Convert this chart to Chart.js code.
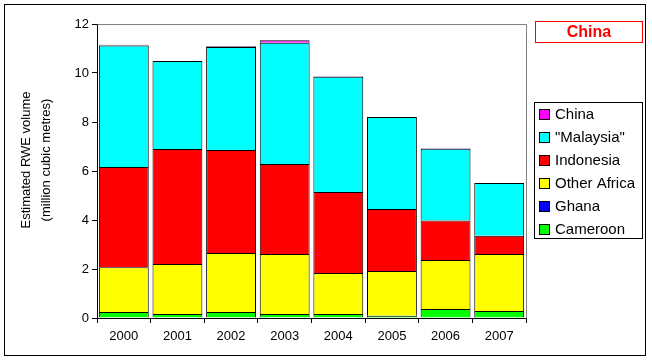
<!DOCTYPE html>
<html><head><meta charset="utf-8">
<script src="https://cdn.jsdelivr.net/npm/chart.js@4.4.1/dist/chart.umd.min.js"></script>
<style>html,body{margin:0;padding:0;background:#fff}#wrap{width:652px;height:361px;position:relative}</style>
</head><body><div id="wrap"><canvas id="c" width="652" height="361"></canvas></div>
<script>
const years = ['2000','2001','2002','2003','2004','2005','2006','2007'];
const cameroon    = [0.25, 0.16, 0.25, 0.16, 0.16, 0.09, 0.37, 0.29];
const ghana       = [0, 0, 0, 0, 0, 0, 0, 0];
const otherAfrica = [1.82, 2.04, 2.40, 2.45, 1.68, 1.83, 2.00, 2.32];
const indonesia   = [4.09, 4.70, 4.21, 3.68, 3.30, 2.53, 1.61, 0.75];
const malaysia    = [4.96, 3.59, 4.20, 4.94, 4.71, 3.75, 2.93, 2.15];
const china       = [0.03, 0, 0.03, 0.11, 0.02, 0, 0.02, 0];
const seriesNames  = ['Cameroon', 'Ghana', 'Other Africa', 'Indonesia', '"Malaysia"', 'China'];
const seriesColors = ['#00FF00', '#0000FF', '#FFFF00', '#FF0000', '#00FFFF', '#FF00FF'];
const seriesData   = [cameroon, ghana, otherAfrica, indonesia, malaysia, china];
const yMin = 0, yMax = 12, yStep = 2;
const titleText = 'China';
const yTitleLines = ['Estimated RWE volume', '(million cubic metres)'];

const FONT = '"Liberation Sans", Arial, sans-serif';

const datasets = seriesNames.map((n, i) => ({
  label: n,
  data: seriesData[i],
  backgroundColor: seriesColors[i],
  borderColor: '#000',
  borderWidth: 1,
  inflateAmount: 0
}));

const decor = {
  id: 'decor',
  beforeDatasetsDraw(chart) {
    const ctx = chart.ctx, a = chart.chartArea;
    ctx.save();
    ctx.strokeStyle = '#808080';
    ctx.lineWidth = 1;
    ctx.beginPath();
    ctx.moveTo(Math.round(a.left) + 0.5, Math.round(a.top) + 0.5);
    ctx.lineTo(Math.round(a.right) + 0.5, Math.round(a.top) + 0.5);
    ctx.lineTo(Math.round(a.right) + 0.5, Math.round(a.bottom) + 0.5);
    ctx.stroke();
    ctx.restore();
  },
  afterDraw(chart) {
    const ctx = chart.ctx;
    ctx.save();
    // outer frame
    ctx.strokeStyle = '#000';
    ctx.lineWidth = 1;
    ctx.strokeRect(4.5, 4.5, 641, 351);
    // title box
    ctx.strokeStyle = '#FF0000';
    ctx.strokeRect(535.5, 21.5, 107, 21);
    ctx.fillStyle = '#FF0000';
    ctx.font = 'bold 16px ' + FONT;
    ctx.textAlign = 'center';
    ctx.textBaseline = 'middle';
    ctx.fillText(titleText, 589, 32.5);
    // y title
    ctx.fillStyle = '#000';
    ctx.font = '13px ' + FONT;
    ctx.textAlign = 'center';
    ctx.textBaseline = 'middle';
    const xs = [26, 46];
    yTitleLines.forEach((t, i) => {
      ctx.save();
      ctx.translate(xs[i], 160);
      ctx.rotate(-Math.PI / 2);
      ctx.fillText(t, 0, 0);
      ctx.restore();
    });
    // legend
    ctx.strokeStyle = '#000';
    ctx.strokeRect(534.5, 102.5, 108, 136);
    ctx.font = '15px ' + FONT;
    ctx.textAlign = 'left';
    const order = chart.data.datasets.map((d, i) => i).reverse();
    order.forEach((di, r) => {
      const ds = chart.data.datasets[di];
      const cy = 114.5 + r * 23;
      ctx.fillStyle = ds.backgroundColor;
      ctx.fillRect(539.5, cy - 5, 10, 10);
      ctx.strokeStyle = '#000';
      ctx.strokeRect(539.5, cy - 5, 10, 10);
      ctx.fillStyle = '#000';
      ctx.fillText(ds.label, 555, cy + 0.5);
    });
    ctx.restore();
  }
};

new Chart(document.getElementById('c'), {
  type: 'bar',
  data: { labels: years, datasets },
  options: {
    responsive: false,
    devicePixelRatio: 1,
    animation: false,
    layout: { padding: { left: 0, top: 24, right: 126, bottom: 0 } },
    plugins: { legend: { display: false }, tooltip: { enabled: false }, title: { display: false } },
    datasets: { bar: { categoryPercentage: 1, barPercentage: 0.93 } },
    scales: {
      x: {
        stacked: true,
        grid: { display: true, drawOnChartArea: false, drawTicks: true, tickLength: 5, color: '#000', offset: true },
        border: { display: true, color: '#000', width: 1 },
        ticks: { color: '#000', font: { family: FONT, size: 13 }, padding: 6, maxRotation: 0 },
        afterFit(s) { s.height = 43; }
      },
      y: {
        stacked: true,
        min: yMin, max: yMax,
        grid: { display: true, drawOnChartArea: false, drawTicks: true, tickLength: 5, color: '#000' },
        border: { display: true, color: '#000', width: 1 },
        ticks: { stepSize: yStep, color: '#000', font: { family: FONT, size: 13 }, padding: 3 },
        afterFit(s) { s.width = 97; }
      }
    }
  },
  plugins: [decor]
});
</script>
</body></html>
